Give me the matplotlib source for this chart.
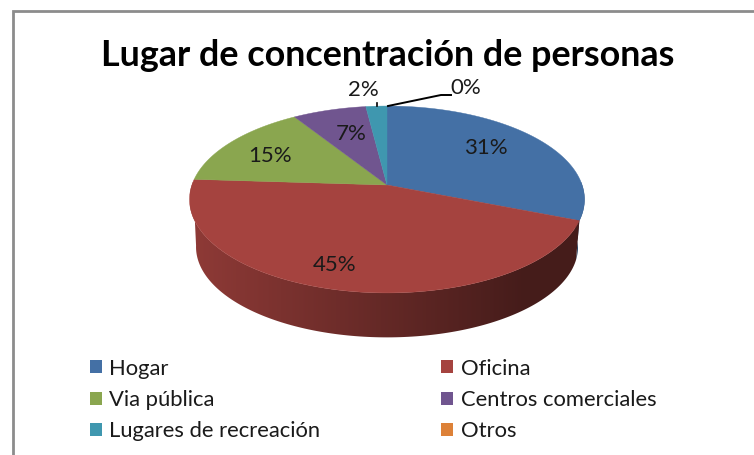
import numpy as np
import matplotlib
matplotlib.use('Agg')
import matplotlib.pyplot as plt
from matplotlib.patches import Patch, Polygon, Rectangle

# values
categories = ['Hogar', 'Oficina', 'Via pública', 'Centros comerciales',
              'Lugares de recreación', 'Otros']
values = [31, 45, 15, 7, 2, 0]
colors = ['#4470A5', '#A5433F', '#8AA64F', '#70558F', '#3F97AF', '#DD8138']
title = 'Lugar de concentración de personas'

plt.rcParams['font.family'] = ['Lato', 'DejaVu Sans']

# pie centre and perspective, in pixels
CX, CY = 387, 185
RX, RY, TILT = 195.1, 91.2, 0.155
DEPTH_X, DEPTH_Y = 0.967, 48
# the base of the wall does not line up with the top edge at its two ends
LOW_JOINT = np.radians(107)
LOW_LEFT = np.radians(262)


def rim(theta, shrink=1.0, drop=0.0):
    """Point on the pie edge, theta clockwise from 12 o'clock."""
    w = 1 + TILT * np.cos(theta)
    return (CX + shrink * RX * np.sin(theta) / w,
            CY - shrink * RY * np.cos(theta) / w + drop)


def wall_outline(top_from, top_to, low_from, low_to):
    top_x, top_y = rim(np.linspace(top_from, top_to, 150))
    low_x, low_y = rim(np.linspace(low_to, low_from, 150), DEPTH_X, DEPTH_Y)
    return list(zip(top_x, top_y)) + list(zip(low_x, low_y))


fig = plt.figure(figsize=(7.54, 4.55), dpi=100)
ax = fig.add_axes([0, 0, 1, 1])

# chart frame
ax.add_patch(Rectangle((13, 11), 900, 900, fc='white', ec='#8C8C8C', lw=2,
                       zorder=-1))

edges = np.radians(np.cumsum([0] + values) * 3.6)

# dark blue sliver of wall on the right
ax.add_patch(Polygon(wall_outline(np.radians(88), edges[1], np.radians(88), LOW_JOINT),
                     fc='#1F3A5A', ec='none', zorder=0))

# side wall of the big slice, gradient clipped to its outline
wall = Polygon(wall_outline(edges[1], np.radians(272), LOW_JOINT, LOW_LEFT),
               fc='none', ec='none')
ax.add_patch(wall)
xs = np.linspace(190, 585, 300)
shade = 0.86 - 0.44 * np.clip((xs - 195) / 330, 0, 1)
grad = np.array(matplotlib.colors.to_rgb(colors[1]))[None, None, :] * shade[None, :, None]
img = ax.imshow(grad, extent=(190, 585, 345, 170), aspect='auto',
                interpolation='bilinear', zorder=0.5)
img.set_clip_path(wall)

# top face
for i in range(len(values)):
    if values[i] == 0:
        continue
    angles = np.linspace(edges[i], edges[i + 1], 120)
    x, y = rim(angles)
    pts = [(CX, CY)] + list(zip(x, y))
    ax.add_patch(Polygon(pts, fc=colors[i], ec=colors[i], lw=0.3))

# data labels
label_x = [486, 335, 270, 351, 363, 466]
label_y = [148, 265, 156, 134, 90, 88]
for v, lx, ly in zip(values, label_x, label_y):
    ax.text(lx, ly, '%d%%' % v, fontsize=16, color='#1a1a1a',
            ha='center', va='center')

# leader lines
ax.plot([388, 441, 451], [106, 95, 95], color='black', lw=1.4)
ax.plot([377, 377], [103, 106], color='black', lw=1.2)

ax.text(388, 55, title, fontsize=25.8, fontweight='bold', color='black',
        ha='center', va='center')

# legend, filled by column so reorder to read across
order = [0, 2, 4, 1, 3, 5]
handles = [Patch(fc=colors[i], ec='none', label=categories[i]) for i in order]
ax.legend(handles=handles, ncol=2, frameon=False, fontsize=15.8,
          loc='upper left', bbox_to_anchor=(72 / 754, 1 - 341 / 455),
          handlelength=0.55, handleheight=0.55, handletextpad=0.35,
          labelspacing=0.52, columnspacing=5.5, borderpad=0.3,
          labelcolor='#1a1a1a')

ax.set_xlim(0, 754)
ax.set_ylim(455, 0)
ax.axis('off')

fig.savefig('out.png', dpi=100)
